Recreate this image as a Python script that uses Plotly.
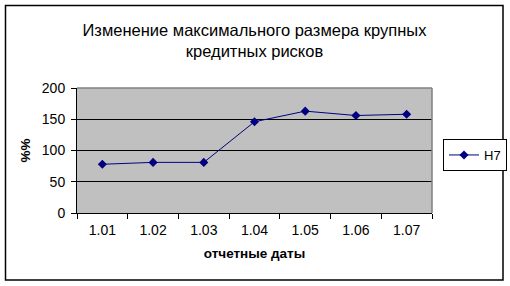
import plotly.graph_objects as go

categories = ["1.01", "1.02", "1.03", "1.04", "1.05", "1.06", "1.07"]
values = [78, 81, 81, 146, 163, 156, 158]
series_name = "Н7"
title_text = "Изменение максимального размера крупных<br>кредитных рисков"
x_title = "отчетные даты"
y_title = "%%"

W, H = 510, 286
L, R, T, B = 77, 78, 88, 73
pw, ph = W - L - R, H - T - B

def px(x):
    return (x - L) / pw

def py(y):
    return (H - B - y) / ph

FONT = "Liberation Sans, Arial, sans-serif"

fig = go.Figure()
fig.add_trace(go.Scatter(
    x=categories, y=values, name=series_name, mode="lines+markers",
    line=dict(color="#000080", width=1),
    marker=dict(symbol="diamond", size=7, color="#000080"),
))

fig.update_layout(
    width=W, height=H,
    margin=dict(l=L, r=R, t=T, b=B, autoexpand=False),
    paper_bgcolor="white", plot_bgcolor="#C0C0C0",
    font=dict(family=FONT, size=14, color="black"),
    title=dict(text=title_text, x=0.5, xanchor="center", xref="paper",
               y=1 - 36 / H, yanchor="middle", yref="container",
               font=dict(size=16.5, family=FONT, color="black")),
    showlegend=True,
    legend=dict(x=px(443), y=py(139), xanchor="left", yanchor="top",
                bordercolor="black", borderwidth=1, bgcolor="white",
                font=dict(size=13, family=FONT), itemwidth=30,
                tracegroupgap=0),
    xaxis=dict(type="category", range=[-0.5, 6.5], showgrid=False,
               showline=True, linecolor="black", linewidth=1,
               ticks="outside", tickson="boundaries", ticklen=5,
               tickcolor="black", mirror=False, ticklabelstandoff=4,
               title=dict(text="<b>" + x_title + "</b>", standoff=11,
                          font=dict(size=13.5)),
               tickfont=dict(size=14), fixedrange=True),
    yaxis=dict(range=[0, 200], dtick=50, showgrid=True, gridcolor="black",
               gridwidth=1, zeroline=False,
               showline=True, linecolor="black", linewidth=1,
               ticks="outside", ticklen=5, tickcolor="black",
               ticklabelstandoff=3,
               title=dict(text="<b>" + y_title + "</b>", standoff=8,
                          font=dict(size=13.5)),
               tickfont=dict(size=14), fixedrange=True),
    shapes=[
        dict(type="line", xref="paper", yref="paper", x0=0, x1=1, y0=1, y1=1,
             line=dict(color="#808080", width=1.5)),
        dict(type="line", xref="paper", yref="paper", x0=1, x1=1, y0=0, y1=1,
             line=dict(color="#808080", width=1.5)),
        dict(type="rect", xref="paper", yref="paper",
             x0=px(5.5), x1=px(503), y0=py(280), y1=py(5.5),
             line=dict(color="black", width=1.5), fillcolor="rgba(0,0,0,0)",
             layer="below"),
    ],
)

fig.write_html("out.html", config={"displayModeBar": False})
